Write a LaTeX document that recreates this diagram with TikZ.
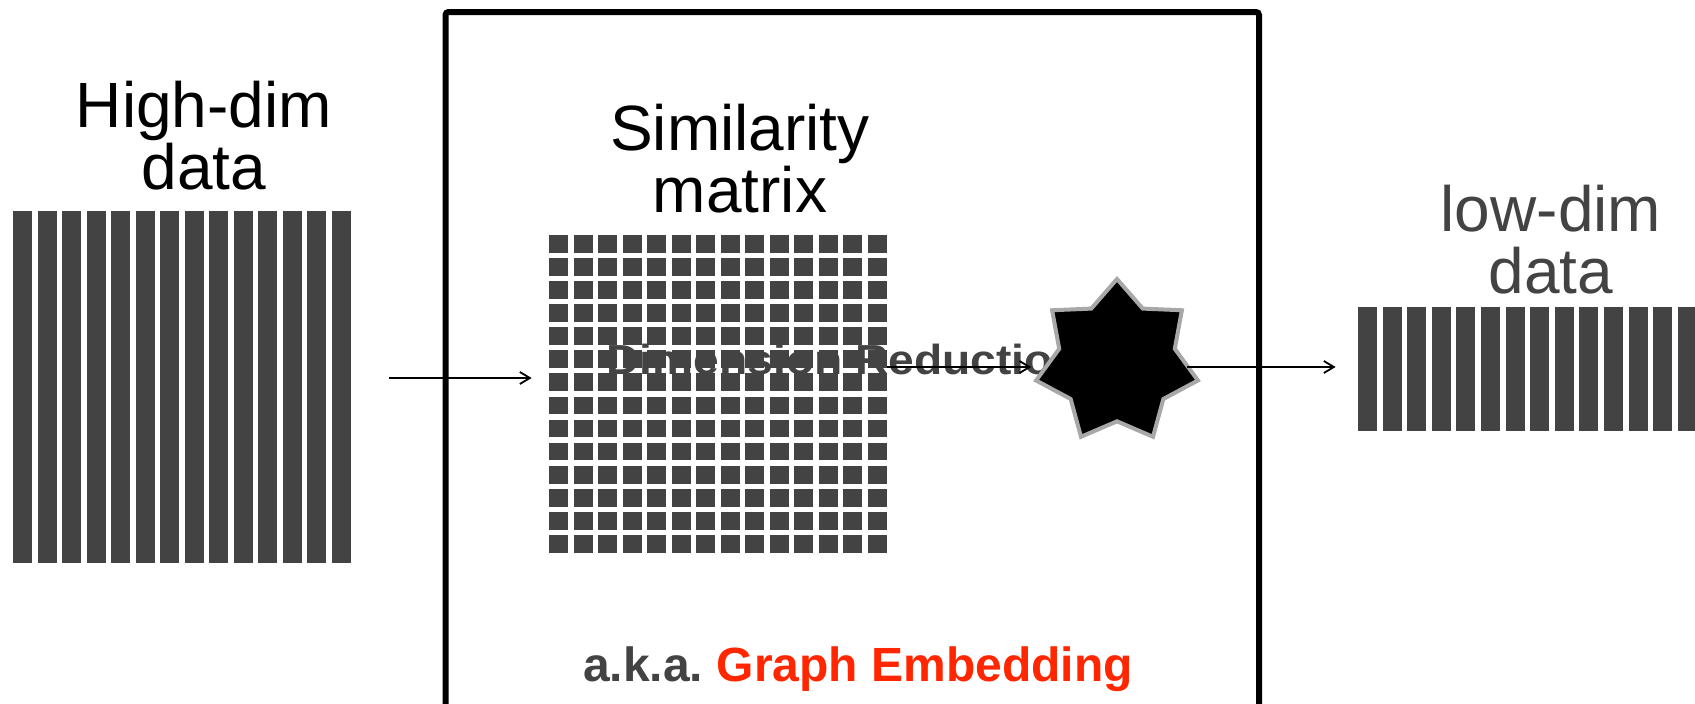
\documentclass[tikz,border=0pt]{standalone}
\usepackage{fontspec}
\setmainfont{Liberation Sans}
\usepackage{xcolor}
\usetikzlibrary{arrows.meta, shapes.geometric, positioning, calc, fit}

\definecolor{bargray}{HTML}{434343}
\definecolor{akared}{HTML}{FF2600}
\definecolor{starrim}{HTML}{A8A8A8}

\begin{document}
\begin{tikzpicture}[x=0.5pt, y=-0.5pt,
  >={Straight Barb[length=5pt, width=6pt]},
  group/.style={inner sep=0pt, draw=none},
  label/.style={align=center, font=\fontsize{32}{31}\selectfont},
  conn/.style={->, line width=0.9pt}]
  \useasboundingbox (0,0) rectangle (1695,703);
  \clip (0,0) rectangle (1695,703);

  % high-dim data
  \foreach \i in {0,...,13}
    \fill[bargray] (13+24.5*\i,211) rectangle ++(19,352);
  \node[group, fit={(13,211) (351,563)}] (hd) {};
  \node[label] (hdlabel) at (204,136) {High-dim\\data};

  % frame
  \draw[line width=3pt, rounded corners=1.5pt] (445.5,12) rectangle (1259,720);

  % similarity matrix
  \foreach \r in {0,...,13}
    \foreach \c in {0,...,13}
      \fill[bargray] (549+24.5*\c,235+23.08*\r) rectangle ++(19,17.7);
  \node[group, fit={(549,235) (887,553)}] (sim) {};
  \node[label] (simlabel) at (740,159) {Similarity\\matrix};
  \node[anchor=base west, text=bargray, inner sep=0pt, xscale=1.1,
        font=\fontsize{21}{24}\selectfont\bfseries] (dimred) at (606,374) {Dimension Reduction};

  % embedding
  \node[star, star points=7, star point ratio=1.4, minimum size=83pt, inner sep=0pt,
        fill=black, draw=starrim, line width=2pt] (rd) at (1117,362) {};

  % low-dim data
  \foreach \i in {0,...,13}
    \fill[bargray] (1358+24.6*\i,307) rectangle ++(19,124);
  \node[group, fit={(1358,307) (1696,431)}] (ld) {};
  \node[label, text=bargray] (ldlabel) at (1551,240) {low-dim\\data};

  \draw[conn, shorten <=19pt, shorten >=8.5pt] (hd.east |- 0,378) -- (sim.west |- 0,378);
  \draw[conn, shorten >=1.5pt] (sim.east |- 0,367) -- (rd.192.857 |- 0,367);
  \draw[conn, shorten >=11pt] (rd.0 |- 0,367) -- (ld.west |- 0,367);

  \node[anchor=base, inner sep=0pt, font=\fontsize{24}{28}\selectfont\bfseries] (aka) at (858,681)
    {\textcolor{bargray}{a.k.a.}\hspace{-2pt} \textcolor{akared}{Graph Embedding}};
\end{tikzpicture}
\end{document}
